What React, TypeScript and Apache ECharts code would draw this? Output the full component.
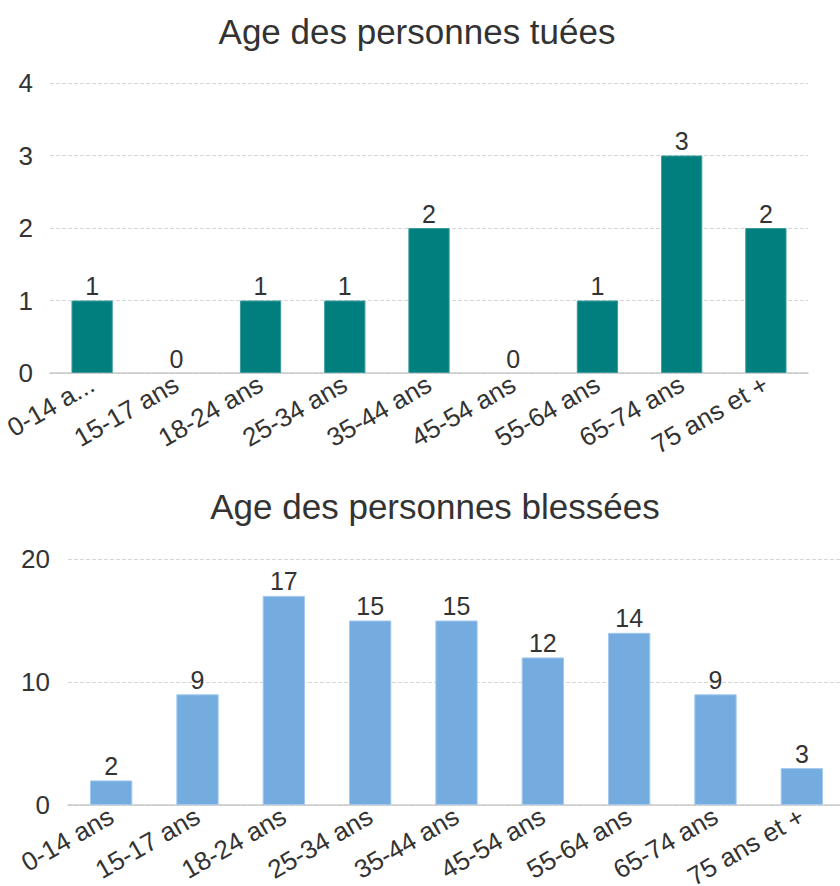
import React, { useEffect, useRef } from "react";
import * as echarts from "echarts";

const categories = ["0-14 ans", "15-17 ans", "18-24 ans", "25-34 ans", "35-44 ans", "45-54 ans", "55-64 ans", "65-74 ans", "75 ans et +"];
const killed = [1, 0, 1, 1, 2, 0, 1, 3, 2];
const injured = [2, 9, 17, 15, 15, 12, 14, 9, 3];
const titleKilled = "Age des personnes tuées";
const titleInjured = "Age des personnes blessées";

const FONT = "Liberation Sans, Arial, sans-serif";
const TXT = "#333";

const toItems = (arr: number[]) =>
  arr.map((v) => (v === 0 ? { value: v, itemStyle: { borderWidth: 0 } } : v));

export default function App() {
  const ref = useRef<HTMLDivElement>(null);
  useEffect(() => {
    if (!ref.current) return;
    const chart = echarts.init(ref.current, null, { renderer: "svg" });
    const axisCommon = (gridIndex: number) => ({
      type: "category" as const,
      gridIndex,
      data: categories,
      axisLine: { lineStyle: { color: "#c8c8c8", width: 1.5 } },
      axisTick: { length: 8, lineStyle: { color: "#c8c8c8", width: 1.5 } },
      axisLabel: {
        rotate: 30,
        interval: 0,
        margin: 9,
        fontSize: 26,
        color: TXT,
        fontFamily: FONT,
      },
    });
    chart.setOption({
      animation: false,
      textStyle: { fontFamily: FONT },
      title: [
        {
          text: titleKilled,
          left: 412,
          top: 9,
          textAlign: "center",
          textStyle: { fontSize: 35, fontWeight: "normal", color: TXT, fontFamily: FONT },
        },
        {
          text: titleInjured,
          left: 430,
          top: 484,
          textAlign: "center",
          textStyle: { fontSize: 35, fontWeight: "normal", color: TXT, fontFamily: FONT },
        },
      ],
      grid: [
        { left: 50, right: 32, top: 83, height: 290, containLabel: false, outerBoundsMode: "none" },
        { left: 68, right: -5, top: 559, height: 246, containLabel: false, outerBoundsMode: "none" },
      ],
      xAxis: [
        {
          ...axisCommon(0),
          axisLabel: {
            ...axisCommon(0).axisLabel,
            formatter: (v: string, i: number) => (i === 0 ? "0-14 a..." : v),
          },
        },
        axisCommon(1),
      ],
      yAxis: [
        {
          type: "value",
          gridIndex: 0,
          min: 0,
          max: 4,
          interval: 1,
          axisLine: { show: false },
          axisTick: { show: false },
          axisLabel: { fontSize: 26, color: TXT, fontFamily: FONT, margin: 17 },
          splitLine: { lineStyle: { type: "dashed", color: "#d6d6d6" } },
        },
        {
          type: "value",
          gridIndex: 1,
          min: 0,
          max: 20,
          interval: 10,
          axisLine: { show: false },
          axisTick: { show: false },
          axisLabel: { fontSize: 26, color: TXT, fontFamily: FONT, margin: 18 },
          splitLine: { lineStyle: { type: "dashed", color: "#d6d6d6" } },
        },
      ],
      series: [
        {
          type: "bar",
          xAxisIndex: 0,
          yAxisIndex: 0,
          data: toItems(killed),
          barWidth: "49%",
          itemStyle: { color: "#007f7e", borderColor: "#3a9d9c", borderWidth: 1 },
          label: { show: true, position: "top", distance: 2, fontSize: 25, color: TXT, fontFamily: FONT },
        },
        {
          type: "bar",
          xAxisIndex: 1,
          yAxisIndex: 1,
          data: toItems(injured),
          barWidth: "49%",
          itemStyle: { color: "#74ace0", borderColor: "#a3c9ee", borderWidth: 1 },
          label: { show: true, position: "top", distance: 2, fontSize: 25, color: TXT, fontFamily: FONT },
        },
      ],
    });
    return () => chart.dispose();
  }, []);
  return (
    <div
      ref={ref}
      style={{ position: "absolute", left: 0, top: 0, width: 840, height: 886, background: "#fff" }}
    />
  );
}
